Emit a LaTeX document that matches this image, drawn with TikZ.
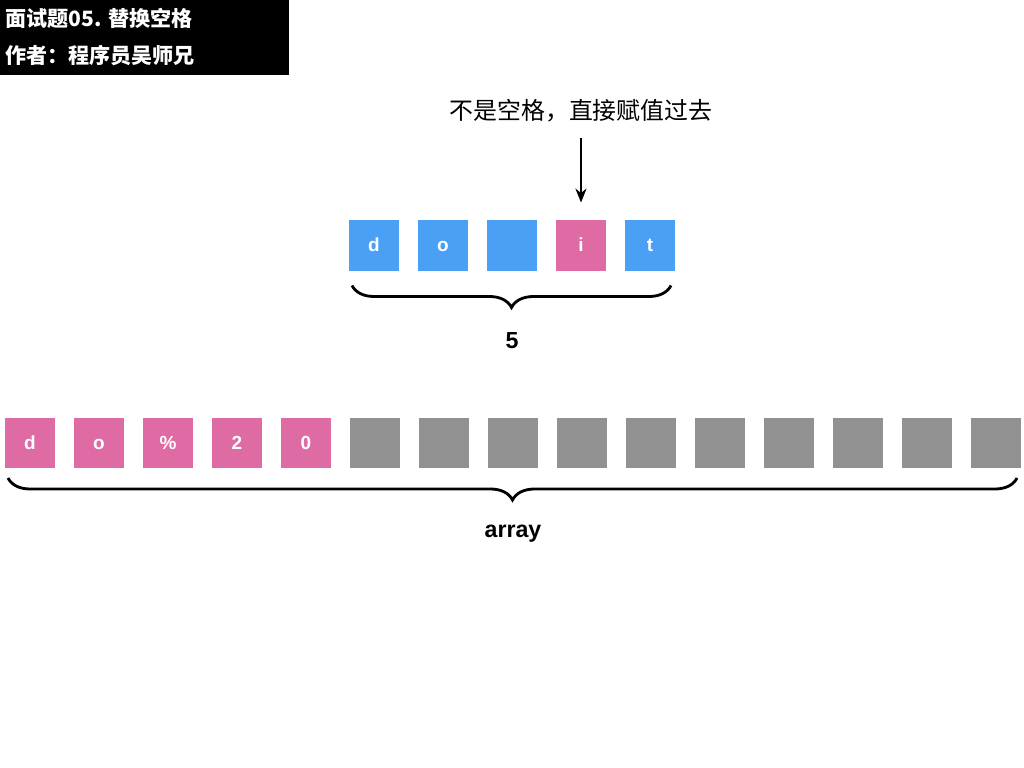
\documentclass[tikz,border=0pt]{standalone}
\usepackage{fontspec}
\setmainfont{Liberation Sans}
\newfontfamily\cjk{Noto Sans CJK SC}
\usetikzlibrary{arrows.meta,decorations.pathreplacing}

\definecolor{cellblue}{RGB}{74,160,245}
\definecolor{cellpink}{RGB}{222,107,164}
\definecolor{cellgray}{RGB}{145,145,145}

\begin{document}
\begin{tikzpicture}

\def\ssep{0.475cm}
\def\csize{1.25cm}

\tikzstyle{cnode} = [minimum width=\csize,minimum height=\csize,inner sep=0pt,outer sep=0pt,text height=0.9em,text depth=0pt,text=white,font=\fontsize{13.5}{16}\selectfont\bfseries];
\tikzstyle{bnode} = [cnode,fill=cellblue];
\tikzstyle{pnode} = [cnode,fill=cellpink];
\tikzstyle{gnode} = [cnode,fill=cellgray];
\tikzstyle{bracedraw} = [decorate,decoration={brace,mirror,amplitude=0.55cm},line width=2pt];

\useasboundingbox [fill=white] (0,0) rectangle (25.6,-19.2);

% title
\node [anchor=north west,fill=black,minimum width=7.225cm,minimum height=1.875cm,inner sep=0pt,outer sep=0pt] (title) at (0,0) {};
\node [anchor=west,inner sep=0pt,text=white,font=\cjk\bfseries\fontsize{15}{17}\selectfont] (titleline1) at (0.125,-0.45) {面试题05. 替换空格};
\node [anchor=west,inner sep=0pt,text=white,font=\cjk\bfseries\fontsize{15}{17}\selectfont] (titleline2) at (0.125,-1.4) {作者：程序员吴师兄};

% string
\node [bnode,anchor=west] (e0) at (8.725,-6.1375) {d};
\node [bnode,anchor=west] (e1) at ([xshift=\ssep]e0.east) {o};
\node [bnode,anchor=west] (e2) at ([xshift=\ssep]e1.east) {};
\node [pnode,anchor=west] (e3) at ([xshift=\ssep]e2.east) {i};
\node [bnode,anchor=west] (e4) at ([xshift=\ssep]e3.east) {t};

\node [font=\cjk\fontsize{17}{20}\selectfont,inner sep=0pt] (note) at ([yshift=3.36cm]e3.center) {不是空格，直接赋值过去};
\draw [-{Stealth[length=0.35cm,width=0.28cm]},line width=0.8pt] ([yshift=-0.375cm]note.south) -- ([yshift=0.45cm]e3.north);

\coordinate (sl) at ([xshift=0.075cm,yshift=-0.375cm]e0.south west);
\coordinate (sr) at ([xshift=-0.1cm,yshift=-0.375cm]e4.south east);
\draw [bracedraw] (sl) -- (sr);
\node [font=\fontsize{16.5}{20}\selectfont\bfseries] (strlen) at ([yshift=-1.75cm]e2.south) {5};

% array
\node [pnode,anchor=west] (a0) at (0.125,-11.075) {d};
\node [pnode,anchor=west] (a1) at ([xshift=\ssep]a0.east) {o};
\node [pnode,anchor=west] (a2) at ([xshift=\ssep]a1.east) {\%};
\node [pnode,anchor=west] (a3) at ([xshift=\ssep]a2.east) {2};
\node [pnode,anchor=west] (a4) at ([xshift=\ssep]a3.east) {0};
\node [gnode,anchor=west] (a5) at ([xshift=\ssep]a4.east) {};
\node [gnode,anchor=west] (a6) at ([xshift=\ssep]a5.east) {};
\node [gnode,anchor=west] (a7) at ([xshift=\ssep]a6.east) {};
\node [gnode,anchor=west] (a8) at ([xshift=\ssep]a7.east) {};
\node [gnode,anchor=west] (a9) at ([xshift=\ssep]a8.east) {};
\node [gnode,anchor=west] (a10) at ([xshift=\ssep]a9.east) {};
\node [gnode,anchor=west] (a11) at ([xshift=\ssep]a10.east) {};
\node [gnode,anchor=west] (a12) at ([xshift=\ssep]a11.east) {};
\node [gnode,anchor=west] (a13) at ([xshift=\ssep]a12.east) {};
\node [gnode,anchor=west] (a14) at ([xshift=\ssep]a13.east) {};

\coordinate (al) at ([xshift=0.075cm,yshift=-0.25cm]a0.south west);
\coordinate (ar) at ([xshift=-0.1cm,yshift=-0.25cm]a14.south east);
\draw [bracedraw] (al) -- (ar);
\node [font=\fontsize{16.5}{20}\selectfont\bfseries] (arraylabel) at ([yshift=-1.65cm]a7.south) {array};

\end{tikzpicture}
\end{document}
